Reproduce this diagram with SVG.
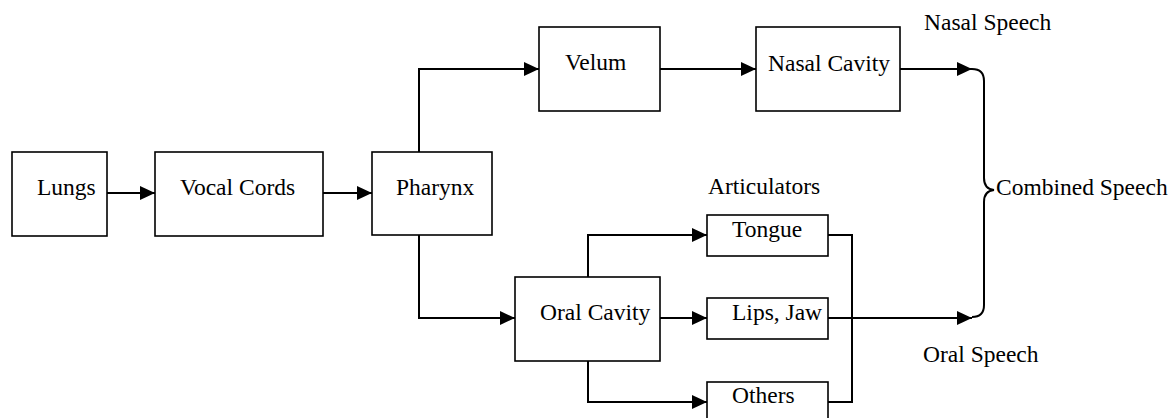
<svg xmlns="http://www.w3.org/2000/svg" width="1174" height="418" viewBox="0 0 1174 418">
<defs>
<style>
.box{fill:#fff;stroke:#000;stroke-width:1.6}
.lbl{font-family:"Liberation Serif","Times New Roman",serif;font-size:23.5px;fill:#000}
.con{fill:none;stroke:#000;stroke-width:2}
.arr{marker-end:url(#ah)}
</style>
<marker id="ah" viewBox="0 0 15 14" refX="15" refY="7" markerWidth="15" markerHeight="14" markerUnits="userSpaceOnUse" orient="auto">
<path d="M0,0 L15,7 L0,14 Z" fill="#000"/>
</marker>
</defs>
<rect width="1174" height="418" fill="#fff"/>
<g id="connectors">
<path class="con arr" d="M107,193 H155"/>
<path class="con arr" d="M323,193 H372"/>
<path class="con arr" d="M419,152 V69 H539"/>
<path class="con arr" d="M660,69 H756"/>
<path class="con arr" d="M900,69 H972"/>
<path class="con arr" d="M419,235 V318 H515"/>
<path class="con arr" d="M588,277 V235 H707"/>
<path class="con arr" d="M660,318 H707"/>
<path class="con arr" d="M588,361 V402 H707"/>
<path class="con" d="M828,235 H852 V402 H828"/>
<path class="con arr" d="M828,318 H972"/>
<path class="con" d="M972,69 Q984,69 984,81 L984,178 Q984,189 994,190 Q984,191 984,202 L984,305 Q984,317 972,317"/>
</g>
<g id="lungs"><rect class="box" x="12" y="152" width="95" height="84"/><text class="lbl" x="37" y="195">Lungs</text></g>
<g id="vocal-cords"><rect class="box" x="155" y="152" width="168" height="84"/><text class="lbl" x="180" y="195">Vocal Cords</text></g>
<g id="pharynx"><rect class="box" x="372" y="152" width="120" height="83"/><text class="lbl" x="396" y="195">Pharynx</text></g>
<g id="velum"><rect class="box" x="539" y="27" width="121" height="84"/><text class="lbl" x="565" y="70">Velum</text></g>
<g id="nasal-cavity"><rect class="box" x="756" y="27" width="144" height="84"/><text class="lbl" x="768" y="71">Nasal Cavity</text></g>
<g id="oral-cavity"><rect class="box" x="515" y="277" width="145" height="84"/><text class="lbl" x="540" y="320">Oral Cavity</text></g>
<g id="tongue"><rect class="box" x="707" y="215" width="121" height="41"/><text class="lbl" x="732" y="237">Tongue</text></g>
<g id="lips-jaw"><rect class="box" x="707" y="298" width="121" height="41"/><text class="lbl" x="732" y="320">Lips, Jaw</text></g>
<g id="others"><rect class="box" x="707" y="382" width="121" height="41"/><text class="lbl" x="732" y="403">Others</text></g>
<g id="articulators-label"><text class="lbl" x="708" y="194">Articulators</text></g>
<g id="nasal-speech"><text class="lbl" x="924" y="30">Nasal Speech</text></g>
<g id="oral-speech"><text class="lbl" x="923" y="362">Oral Speech</text></g>
<g id="combined-speech"><text class="lbl" x="996" y="195">Combined Speech</text></g>
</svg>
